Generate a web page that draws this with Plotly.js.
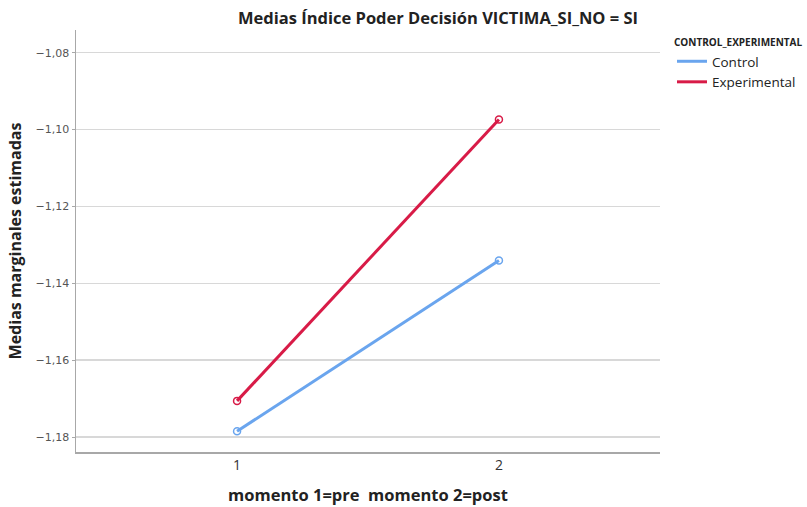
<!DOCTYPE html>
<html>
<head>
<meta charset="utf-8">
<script src="https://cdn.plot.ly/plotly-3.0.1.min.js"></script>
<style>html,body{margin:0;padding:0;background:#fff;}</style>
</head>
<body>
<div id="chart" style="width:807px;height:507px;"></div>
<script>
var momentos = [1, 2];
var tickLabels = ['1', '2'];
var controlMeans = [-1.1785, -1.1341];
var experimentalMeans = [-1.1706, -1.0974];
var seriesNames = ['Control', 'Experimental'];
var seriesColors = ['#6aa5ee', '#d81b47'];
var yTicks = [-1.18, -1.16, -1.14, -1.12, -1.10, -1.08];

var series = [controlMeans, experimentalMeans];
var traces = [];
series.forEach(function (vals, i) {
  traces.push({
    x: momentos, y: vals, mode: 'lines', name: seriesNames[i],
    line: {color: seriesColors[i], width: 3}, hoverinfo: 'skip'
  });
});
series.forEach(function (vals, i) {
  traces.push({
    x: momentos, y: vals, mode: 'markers', showlegend: false,
    marker: {symbol: 'circle-open', size: 7, color: seriesColors[i], line: {width: 1.5}}
  });
});

var layout = {
  width: 807, height: 507,
  margin: {l: 76, r: 147, t: 30, b: 55},
  paper_bgcolor: '#fff', plot_bgcolor: '#fff',
  separators: ',.',
  font: {family: 'Open Sans, DejaVu Sans, sans-serif', color: '#222'},
  title: {
    text: '<b>Medias Índice Poder Decisión VICTIMA_SI_NO = SI</b>',
    font: {size: 16.5, color: '#222'},
    xref: 'container', x: 438 / 807, xanchor: 'center',
    yref: 'container', y: 1 - 18 / 507, yanchor: 'middle'
  },
  xaxis: {
    range: [0.385, 2.615],
    tickvals: momentos, ticktext: tickLabels,
    showgrid: false, zeroline: false,
    showline: true, linecolor: '#a8a8a8', linewidth: 1.5,
    ticks: '', tickfont: {size: 14, color: '#333'},
    title: {text: '<b>momento 1=pre  momento 2=post</b>', font: {size: 16.5, color: '#222'}, standoff: 16}
  },
  yaxis: {
    range: [-1.1839, -1.0741],
    tickvals: yTicks, tickformat: '.2f',
    showgrid: true, gridcolor: '#d8d8d8', gridwidth: 1.5,
    zeroline: false,
    showline: true, linecolor: '#a8a8a8', linewidth: 1.5,
    ticks: 'outside', ticklen: 3, tickcolor: '#a8a8a8',
    tickfont: {size: 11, color: '#555', family: 'DejaVu Sans, sans-serif'},
    title: {text: '<b>Medias marginales estimadas</b>', font: {size: 16, color: '#222'}, standoff: 10}
  },
  legend: {
    xref: 'container', x: 672 / 807, xanchor: 'left',
    yref: 'container', y: 1 - 33 / 507, yanchor: 'top',
    title: {text: '<b>CONTROL_EXPERIMENTAL</b>', font: {size: 10, color: '#222'}},
    font: {size: 13.5, color: '#222'},
    bgcolor: 'rgba(0,0,0,0)', borderwidth: 0,
    tracegroupgap: 0, itemwidth: 30
  },
  showlegend: true
};

Plotly.newPlot('chart', traces, layout, {displayModeBar: false, staticPlot: true});
</script>
</body>
</html>
